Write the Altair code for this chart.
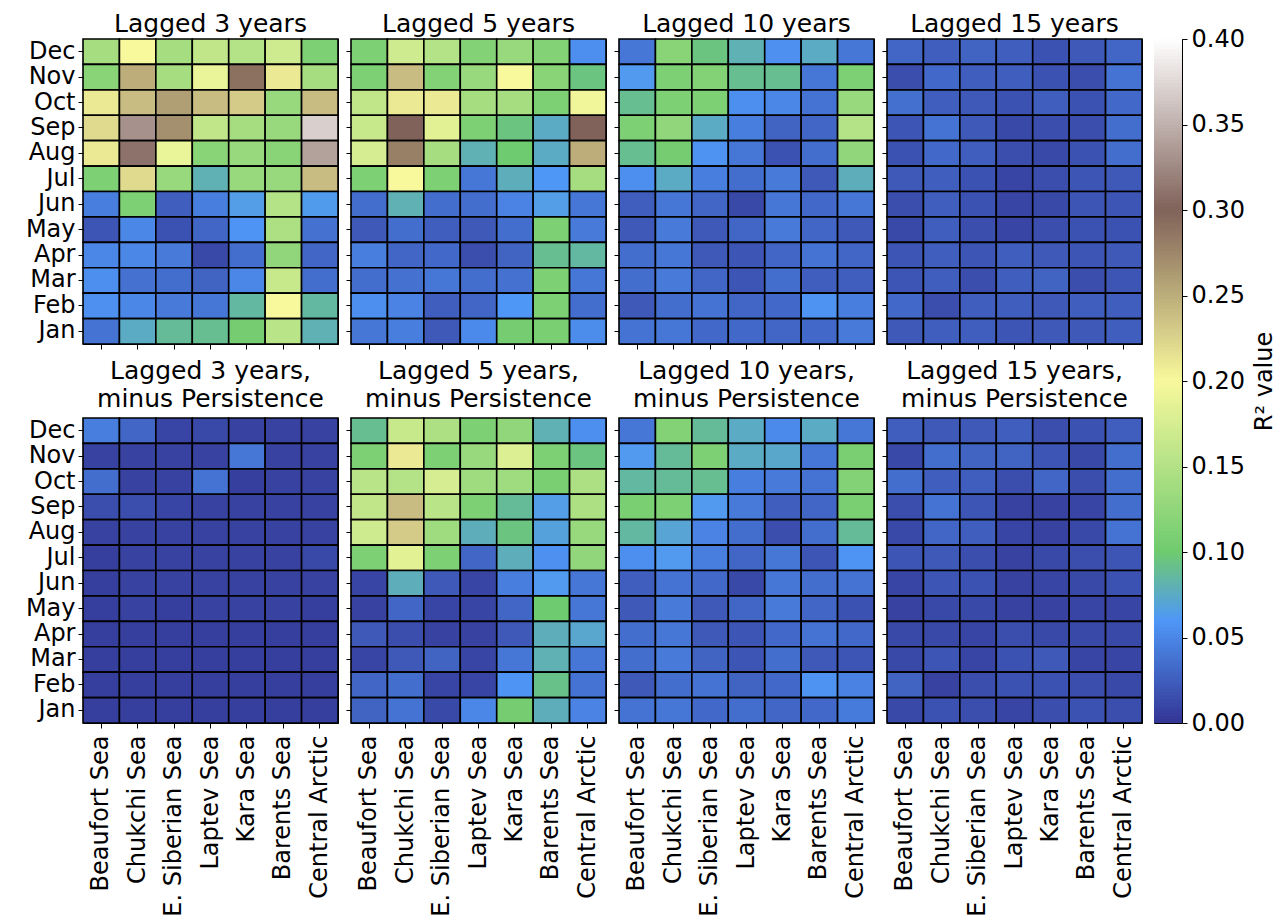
import altair as alt
import numpy as np
import pandas as pd

REGIONS = ["Beaufort Sea", "Chukchi Sea", "E. Siberian Sea", "Laptev Sea",
           "Kara Sea", "Barents Sea", "Central Arctic"]
# rows listed top (Dec) to bottom (Jan)
MONTHS = ["Dec", "Nov", "Oct", "Sep", "Aug", "Jul", "Jun", "May", "Apr", "Mar", "Feb", "Jan"]

LAG3 = [
    [0.14, 0.20, 0.14, 0.16, 0.15, 0.17, 0.11],
    [0.12, 0.25, 0.14, 0.19, 0.29, 0.21, 0.14],
    [0.21, 0.24, 0.26, 0.24, 0.23, 0.13, 0.24],
    [0.22, 0.33, 0.27, 0.16, 0.14, 0.13, 0.37],
    [0.21, 0.31, 0.19, 0.12, 0.13, 0.12, 0.34],
    [0.11, 0.22, 0.13, 0.08, 0.13, 0.13, 0.24],
    [0.045, 0.11, 0.025, 0.045, 0.065, 0.15, 0.063],
    [0.02, 0.05, 0.018, 0.03, 0.058, 0.145, 0.037],
    [0.05, 0.05, 0.042, 0.012, 0.035, 0.125, 0.03],
    [0.055, 0.037, 0.035, 0.028, 0.05, 0.165, 0.035],
    [0.056, 0.05, 0.042, 0.04, 0.085, 0.20, 0.085],
    [0.038, 0.075, 0.088, 0.09, 0.105, 0.155, 0.08],
]
LAG5 = [
    [0.11, 0.17, 0.15, 0.115, 0.13, 0.115, 0.055],
    [0.11, 0.24, 0.115, 0.13, 0.20, 0.12, 0.095],
    [0.16, 0.21, 0.21, 0.14, 0.14, 0.11, 0.195],
    [0.165, 0.30, 0.185, 0.11, 0.095, 0.075, 0.30],
    [0.175, 0.28, 0.14, 0.08, 0.10, 0.075, 0.25],
    [0.11, 0.20, 0.11, 0.04, 0.078, 0.06, 0.14],
    [0.035, 0.08, 0.035, 0.035, 0.048, 0.065, 0.04],
    [0.022, 0.035, 0.025, 0.022, 0.035, 0.11, 0.042],
    [0.045, 0.03, 0.032, 0.015, 0.028, 0.09, 0.085],
    [0.035, 0.037, 0.04, 0.035, 0.037, 0.11, 0.04],
    [0.055, 0.048, 0.025, 0.03, 0.06, 0.11, 0.035],
    [0.04, 0.045, 0.022, 0.052, 0.105, 0.108, 0.053],
]
LAG10 = [
    [0.04, 0.12, 0.095, 0.08, 0.056, 0.075, 0.04],
    [0.062, 0.11, 0.115, 0.09, 0.09, 0.04, 0.11],
    [0.09, 0.11, 0.11, 0.055, 0.05, 0.038, 0.13],
    [0.11, 0.125, 0.075, 0.045, 0.028, 0.03, 0.15],
    [0.09, 0.105, 0.057, 0.04, 0.018, 0.035, 0.125],
    [0.055, 0.075, 0.045, 0.035, 0.042, 0.022, 0.078],
    [0.025, 0.04, 0.03, 0.012, 0.04, 0.032, 0.04],
    [0.022, 0.042, 0.022, 0.03, 0.042, 0.03, 0.022],
    [0.035, 0.04, 0.022, 0.02, 0.03, 0.038, 0.03],
    [0.035, 0.042, 0.03, 0.02, 0.035, 0.025, 0.025],
    [0.022, 0.035, 0.038, 0.03, 0.032, 0.057, 0.045],
    [0.038, 0.04, 0.032, 0.032, 0.03, 0.032, 0.042],
]
LAG15 = [
    [0.03, 0.025, 0.028, 0.025, 0.018, 0.022, 0.03],
    [0.015, 0.032, 0.025, 0.025, 0.018, 0.015, 0.038],
    [0.036, 0.025, 0.022, 0.018, 0.025, 0.018, 0.032],
    [0.02, 0.038, 0.022, 0.012, 0.015, 0.015, 0.035],
    [0.018, 0.032, 0.025, 0.015, 0.012, 0.018, 0.035],
    [0.022, 0.025, 0.018, 0.01, 0.015, 0.02, 0.022],
    [0.015, 0.025, 0.018, 0.01, 0.012, 0.02, 0.02],
    [0.012, 0.025, 0.015, 0.01, 0.015, 0.018, 0.018],
    [0.02, 0.025, 0.02, 0.025, 0.022, 0.02, 0.022],
    [0.02, 0.025, 0.015, 0.025, 0.028, 0.015, 0.02],
    [0.032, 0.015, 0.025, 0.025, 0.022, 0.025, 0.025],
    [0.022, 0.025, 0.025, 0.02, 0.022, 0.022, 0.025],
]
LAG3_MP = [
    [0.045, 0.03, 0.01, 0.012, 0.008, 0.008, 0.008],
    [0.008, 0.008, 0.008, 0.008, 0.04, 0.008, 0.008],
    [0.035, 0.008, 0.008, 0.038, 0.006, 0.008, 0.008],
    [0.015, 0.015, 0.01, 0.008, 0.008, 0.008, 0.008],
    [0.008, 0.008, 0.008, 0.008, 0.008, 0.008, 0.008],
    [0.006, 0.008, 0.008, 0.008, 0.008, 0.008, 0.012],
    [0.006, 0.008, 0.008, 0.008, 0.008, 0.008, 0.008],
    [0.006, 0.008, 0.006, 0.008, 0.008, 0.008, 0.006],
    [0.006, 0.006, 0.006, 0.006, 0.006, 0.006, 0.006],
    [0.006, 0.006, 0.006, 0.006, 0.006, 0.006, 0.006],
    [0.006, 0.006, 0.006, 0.006, 0.006, 0.006, 0.006],
    [0.006, 0.006, 0.006, 0.006, 0.006, 0.006, 0.006],
]
LAG5_MP = [
    [0.09, 0.165, 0.145, 0.11, 0.125, 0.08, 0.055],
    [0.11, 0.21, 0.11, 0.13, 0.18, 0.11, 0.095],
    [0.155, 0.15, 0.175, 0.135, 0.135, 0.108, 0.145],
    [0.16, 0.24, 0.155, 0.11, 0.088, 0.065, 0.145],
    [0.17, 0.23, 0.135, 0.078, 0.095, 0.068, 0.13],
    [0.11, 0.185, 0.11, 0.03, 0.078, 0.056, 0.125],
    [0.01, 0.078, 0.022, 0.01, 0.045, 0.062, 0.04],
    [0.008, 0.03, 0.01, 0.01, 0.03, 0.10, 0.04],
    [0.022, 0.015, 0.008, 0.008, 0.022, 0.078, 0.072],
    [0.01, 0.022, 0.028, 0.01, 0.04, 0.08, 0.04],
    [0.03, 0.035, 0.01, 0.01, 0.058, 0.092, 0.038],
    [0.028, 0.038, 0.012, 0.05, 0.105, 0.078, 0.048],
]
LAG10_MP = [
    [0.04, 0.115, 0.088, 0.075, 0.052, 0.075, 0.04],
    [0.062, 0.088, 0.11, 0.075, 0.073, 0.04, 0.108],
    [0.085, 0.088, 0.09, 0.045, 0.042, 0.038, 0.115],
    [0.108, 0.11, 0.062, 0.042, 0.025, 0.03, 0.108],
    [0.085, 0.07, 0.048, 0.035, 0.015, 0.035, 0.088],
    [0.055, 0.062, 0.045, 0.03, 0.04, 0.02, 0.058],
    [0.025, 0.038, 0.032, 0.012, 0.04, 0.035, 0.038],
    [0.022, 0.042, 0.022, 0.03, 0.042, 0.03, 0.018],
    [0.035, 0.04, 0.022, 0.02, 0.032, 0.038, 0.032],
    [0.035, 0.042, 0.028, 0.02, 0.035, 0.022, 0.02],
    [0.022, 0.035, 0.038, 0.028, 0.032, 0.057, 0.047],
    [0.038, 0.04, 0.032, 0.035, 0.03, 0.032, 0.043],
]
LAG15_MP = [
    [0.025, 0.022, 0.022, 0.025, 0.015, 0.018, 0.025],
    [0.012, 0.035, 0.028, 0.028, 0.02, 0.012, 0.035],
    [0.035, 0.025, 0.025, 0.015, 0.03, 0.015, 0.035],
    [0.015, 0.038, 0.02, 0.008, 0.008, 0.01, 0.035],
    [0.012, 0.03, 0.025, 0.01, 0.008, 0.012, 0.038],
    [0.02, 0.022, 0.015, 0.008, 0.012, 0.015, 0.02],
    [0.01, 0.02, 0.018, 0.008, 0.01, 0.012, 0.018],
    [0.008, 0.012, 0.012, 0.008, 0.008, 0.01, 0.01],
    [0.012, 0.012, 0.01, 0.015, 0.012, 0.012, 0.012],
    [0.012, 0.02, 0.01, 0.018, 0.022, 0.01, 0.01],
    [0.028, 0.008, 0.015, 0.018, 0.018, 0.015, 0.012],
    [0.012, 0.018, 0.015, 0.01, 0.015, 0.018, 0.015],
]

TOP_TITLES = ["Lagged 3 years", "Lagged 5 years", "Lagged 10 years", "Lagged 15 years"]
BOTTOM_TITLES = [["Lagged 3 years,", "minus Persistence"],
                 ["Lagged 5 years,", "minus Persistence"],
                 ["Lagged 10 years,", "minus Persistence"],
                 ["Lagged 15 years,", "minus Persistence"]]
CBAR_TICKS = [0.0, 0.05, 0.10, 0.15, 0.20, 0.25, 0.30, 0.35, 0.40]
CBAR_TITLE = "R² value"

# terrain-like colormap, vmin 0 / vmax 0.4
COLOR_DOMAIN = [0.0, 0.06, 0.10, 0.20, 0.30, 0.40]
COLOR_RANGE = ["#343594", "#4f97f7", "#6fcb6f", "#f8f89c", "#80625a", "#ffffff"]
color_scale = alt.Scale(domain=COLOR_DOMAIN, range=COLOR_RANGE, interpolate="rgb", clamp=True)

FONT = "DejaVu Sans"
PW, PH = 255, 305
LABEL_FS = 24
TITLE_FS = 25


def to_df(values):
    rows = []
    for m, row in zip(MONTHS, values):
        for r, v in zip(REGIONS, row):
            rows.append({"month": m, "region": r, "value": v})
    return pd.DataFrame(rows)


def panel(values, title, show_y, show_x):
    x_axis = alt.Axis(title=None, labels=show_x, labelAngle=270, labelAlign="right",
                      labelBaseline="middle", labelFontSize=LABEL_FS, labelPadding=7,
                      labelLimit=0, ticks=True, tickSize=5)
    y_axis = alt.Axis(title=None, labels=show_y, labelFontSize=LABEL_FS, labelPadding=3,
                      ticks=True, tickSize=5)
    return alt.Chart(to_df(values), title=title).mark_rect(
        stroke="black", strokeWidth=1.6
    ).encode(
        x=alt.X("region:N", sort=REGIONS, scale=alt.Scale(paddingInner=0, paddingOuter=0), axis=x_axis),
        y=alt.Y("month:N", sort=MONTHS, scale=alt.Scale(paddingInner=0, paddingOuter=0), axis=y_axis),
        color=alt.Color("value:Q", scale=color_scale, legend=None),
    ).properties(width=PW, height=PH)


top_data = [LAG3, LAG5, LAG10, LAG15]
bot_data = [LAG3_MP, LAG5_MP, LAG10_MP, LAG15_MP]


def top_title(t):
    return alt.TitleParams(t, fontSize=TITLE_FS, offset=1, frame="group", anchor="middle")


def bot_title(t):
    return alt.TitleParams(t, fontSize=TITLE_FS, offset=5, lineHeight=28, frame="group", anchor="middle")


row1 = alt.hconcat(*[panel(d, top_title(t), i == 0, False) for i, (d, t) in enumerate(zip(top_data, TOP_TITLES))],
                   spacing=5)
row2 = alt.hconcat(*[panel(d, bot_title(t), i == 0, True) for i, (d, t) in enumerate(zip(bot_data, BOTTOM_TITLES))],
                   spacing=5)
grid = alt.vconcat(row1, row2, spacing=8)

# colorbar
lo = np.arange(0, 0.4, 0.002)
cb_df = pd.DataFrame({"lo": lo, "hi": np.minimum(lo + 0.0025, 0.4), "mid": lo + 0.001})
cbar = alt.Chart(cb_df, title=top_title(" ")).mark_rect(strokeWidth=0).encode(
    y=alt.Y("lo:Q", scale=alt.Scale(domain=[0, 0.4], nice=False, zero=False),
            axis=alt.Axis(orient="right", values=CBAR_TICKS, format=".2f", title=CBAR_TITLE,
                          titleAngle=270, titleBaseline="top", titleFontSize=LABEL_FS,
                          titleFontWeight="normal", titlePadding=8, labelFontSize=LABEL_FS,
                          tickSize=5, labelPadding=4, grid=False)),
    y2="hi:Q",
    x=alt.value(0), x2=alt.value(28),
    color=alt.Color("mid:Q", scale=color_scale, legend=None),
).properties(width=28, height=684)

chart = alt.hconcat(grid, cbar, spacing=9).properties(
    padding={"left": 24, "top": 0, "right": 2, "bottom": 2}
).configure(font=FONT).configure_view(
    stroke="black", strokeWidth=1
).configure_axis(
    labelFont=FONT, labelColor="black", tickColor="black", tickWidth=1,
    domain=False, grid=False, titleFont=FONT, titleColor="black"
).configure_title(
    font=FONT, color="black", fontWeight="normal"
)

chart.save("out.html", embed_options={"renderer": "svg", "actions": False})
